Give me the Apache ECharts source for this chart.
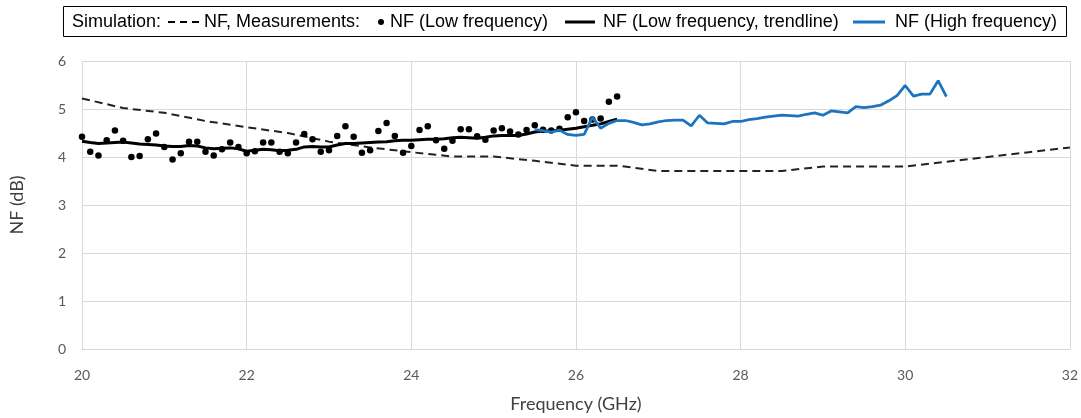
<!DOCTYPE html>
<html>
<head>
<meta charset="utf-8">
<script src="https://cdn.jsdelivr.net/npm/echarts@6/dist/echarts.min.js"></script>
<style>
html,body{margin:0;padding:0;background:#fff;}
#chart{width:1081px;height:418px;}
</style>
</head>
<body>
<div id="chart"></div>
<script>
// Simulation (dashed)
const simFreq = [20, 20.5, 21, 21.5, 22, 22.5, 23, 23.5, 24, 24.5, 25, 25.5, 26, 26.5, 27, 27.5, 28, 28.5, 29, 29.5, 30, 30.5, 31, 31.5, 32];
const simNF   = [5.22, 5.02, 4.92, 4.75, 4.62, 4.5, 4.32, 4.2, 4.1, 4.01, 4.01, 3.92, 3.82, 3.82, 3.71, 3.71, 3.71, 3.71, 3.8, 3.8, 3.8, 3.9, 4.0, 4.1, 4.2];

// Measurements, low frequency (points and trendline)
const lowFreq = [20.0, 20.1, 20.2, 20.3, 20.4, 20.5, 20.6, 20.7, 20.8, 20.9,
                 21.0, 21.1, 21.2, 21.3, 21.4, 21.5, 21.6, 21.7, 21.8, 21.9,
                 22.0, 22.1, 22.2, 22.3, 22.4, 22.5, 22.6, 22.7, 22.8, 22.9,
                 23.0, 23.1, 23.2, 23.3, 23.4, 23.5, 23.6, 23.7, 23.8, 23.9,
                 24.0, 24.1, 24.2, 24.3, 24.4, 24.5, 24.6, 24.7, 24.8, 24.9,
                 25.0, 25.1, 25.2, 25.3, 25.4, 25.5, 25.6, 25.7, 25.8, 25.9,
                 26.0, 26.1, 26.2, 26.3, 26.4, 26.5];
const lowNF = [4.42, 4.11, 4.03, 4.35, 4.55, 4.34, 4.00, 4.02, 4.37, 4.49,
               4.21, 3.95, 4.08, 4.32, 4.32, 4.11, 4.03, 4.16, 4.30, 4.21,
               4.08, 4.12, 4.30, 4.30, 4.11, 4.08, 4.30, 4.48, 4.37, 4.11,
               4.14, 4.44, 4.64, 4.42, 4.09, 4.14, 4.54, 4.71, 4.44, 4.09,
               4.23, 4.56, 4.64, 4.35, 4.17, 4.34, 4.58, 4.58, 4.43, 4.36,
               4.55, 4.60, 4.53, 4.47, 4.56, 4.66, 4.57, 4.55, 4.59, 4.83,
               4.93, 4.75, 4.78, 4.80, 5.15, 5.26];
const lowTrend = [4.33, 4.30, 4.28, 4.29, 4.30, 4.31, 4.29, 4.27, 4.26, 4.25,
                  4.23, 4.22, 4.22, 4.24, 4.23, 4.19, 4.17, 4.18, 4.19, 4.17,
                  4.12, 4.14, 4.16, 4.15, 4.13, 4.14, 4.16, 4.21, 4.22, 4.21,
                  4.21, 4.25, 4.28, 4.28, 4.29, 4.30, 4.31, 4.32, 4.34, 4.35,
                  4.35, 4.36, 4.37, 4.37, 4.38, 4.40, 4.41, 4.40, 4.39, 4.41,
                  4.44, 4.45, 4.45, 4.45, 4.48, 4.52, 4.54, 4.54, 4.56, 4.58,
                  4.60, 4.63, 4.66, 4.69, 4.74, 4.79];

// Measurements, high frequency
const highFreq = [25.5, 25.6, 25.7, 25.8, 25.9, 26.0, 26.1, 26.2, 26.3, 26.4,
                  26.5, 26.6, 26.7, 26.8, 26.9, 27.0, 27.1, 27.2, 27.3, 27.4,
                  27.5, 27.6, 27.7, 27.8, 27.9, 28.0, 28.1, 28.2, 28.3, 28.4,
                  28.5, 28.6, 28.7, 28.8, 28.9, 29.0, 29.1, 29.2, 29.3, 29.4,
                  29.5, 29.6, 29.7, 29.8, 29.9, 30.0, 30.1, 30.2, 30.3, 30.4, 30.5];
const highNF = [4.57, 4.55, 4.52, 4.56, 4.47, 4.45, 4.47, 4.83, 4.60, 4.70,
                4.76, 4.76, 4.72, 4.67, 4.69, 4.73, 4.76, 4.77, 4.77, 4.65,
                4.87, 4.71, 4.70, 4.69, 4.74, 4.74, 4.78, 4.80, 4.83, 4.85,
                4.87, 4.86, 4.85, 4.89, 4.92, 4.87, 4.96, 4.94, 4.92, 5.05,
                5.03, 5.05, 5.08, 5.17, 5.28, 5.49, 5.27, 5.31, 5.31, 5.59, 5.26];

const xTicks = [20, 22, 24, 26, 28, 30, 32];
const yTicks = [0, 1, 2, 3, 4, 5, 6];

const zip = (a, b) => a.map((v, i) => [v, b[i]]);

const chart = echarts.init(document.getElementById('chart'), null, {renderer: 'canvas'});
const legendFont = '18px "Liberation Sans", Arial, sans-serif';
const ly = 22;
const blue = '#1c74bf';

chart.setOption({
  animation: false,
  backgroundColor: '#ffffff',
  grid: {left: 81, right: 10, top: 61, bottom: 67, containLabel: false},
  xAxis: {
    type: 'value', min: xTicks[0], max: xTicks[xTicks.length - 1], interval: 2,
    name: 'Frequency (GHz)', nameLocation: 'middle', nameGap: 46,
    nameTextStyle: {fontFamily: 'Lato', fontSize: 18, color: '#404040'},
    axisLine: {show: true, lineStyle: {color: '#d9d9d9', width: 1}},
    axisTick: {show: false},
    axisLabel: {fontFamily: 'Lato', fontSize: 14, color: '#595959', margin: 19},
    splitLine: {show: true, lineStyle: {color: '#d9d9d9', width: 1}}
  },
  yAxis: {
    type: 'value', min: yTicks[0], max: yTicks[yTicks.length - 1], interval: 1,
    name: 'NF (dB)', nameLocation: 'middle', nameGap: 56, nameRotate: 90,
    nameTextStyle: {fontFamily: 'Lato', fontSize: 18, color: '#404040'},
    axisLine: {show: false},
    axisTick: {show: false},
    axisLabel: {fontFamily: 'Lato', fontSize: 14, color: '#595959', margin: 16},
    splitLine: {show: true, lineStyle: {color: '#d9d9d9', width: 1}}
  },
  series: [
    {
      name: 'Simulation NF', type: 'line', data: zip(simFreq, simNF),
      symbol: 'none', lineStyle: {color: '#222222', width: 2, type: [8, 5]}, z: 2
    },
    {
      name: 'NF (Low frequency)', type: 'scatter', data: zip(lowFreq, lowNF),
      symbol: 'circle', symbolSize: 6.5, itemStyle: {color: '#000000', opacity: 1}, z: 3
    },
    {
      name: 'NF (Low frequency, trendline)', type: 'line', data: zip(lowFreq, lowTrend),
      symbol: 'none', lineStyle: {color: '#000000', width: 3}, z: 4
    },
    {
      name: 'NF (High frequency)', type: 'line', data: zip(highFreq, highNF),
      symbol: 'none', lineStyle: {color: blue, width: 2.75}, z: 5
    }
  ],
  graphic: [
    {type: 'rect', shape: {x: 63.5, y: 6.5, width: 1003, height: 30}, style: {fill: '#fff', stroke: '#000', lineWidth: 1}, z: 10},
    {type: 'text', x: 72, y: ly, style: {text: 'Simulation:', font: legendFont, fill: '#000', textVerticalAlign: 'middle'}, z: 11},
    {type: 'line', shape: {x1: 168, y1: ly, x2: 199, y2: ly}, style: {stroke: '#000', lineWidth: 2, lineDash: [7, 5]}, z: 11},
    {type: 'text', x: 204, y: ly, style: {text: 'NF, Measurements:', font: legendFont, fill: '#000', textVerticalAlign: 'middle'}, z: 11},
    {type: 'circle', shape: {cx: 381, cy: ly, r: 3}, style: {fill: '#000'}, z: 11},
    {type: 'text', x: 390, y: ly, style: {text: 'NF (Low frequency)', font: legendFont, fill: '#000', textVerticalAlign: 'middle'}, z: 11},
    {type: 'line', shape: {x1: 565, y1: ly, x2: 595, y2: ly}, style: {stroke: '#000', lineWidth: 3}, z: 11},
    {type: 'text', x: 603, y: ly, style: {text: 'NF (Low frequency, trendline)', font: legendFont, fill: '#000', textVerticalAlign: 'middle'}, z: 11},
    {type: 'line', shape: {x1: 853, y1: ly, x2: 885, y2: ly}, style: {stroke: blue, lineWidth: 3}, z: 11},
    {type: 'text', x: 895, y: ly, style: {text: 'NF (High frequency)', font: legendFont, fill: '#000', textVerticalAlign: 'middle'}, z: 11}
  ]
});
</script>
</body>
</html>
